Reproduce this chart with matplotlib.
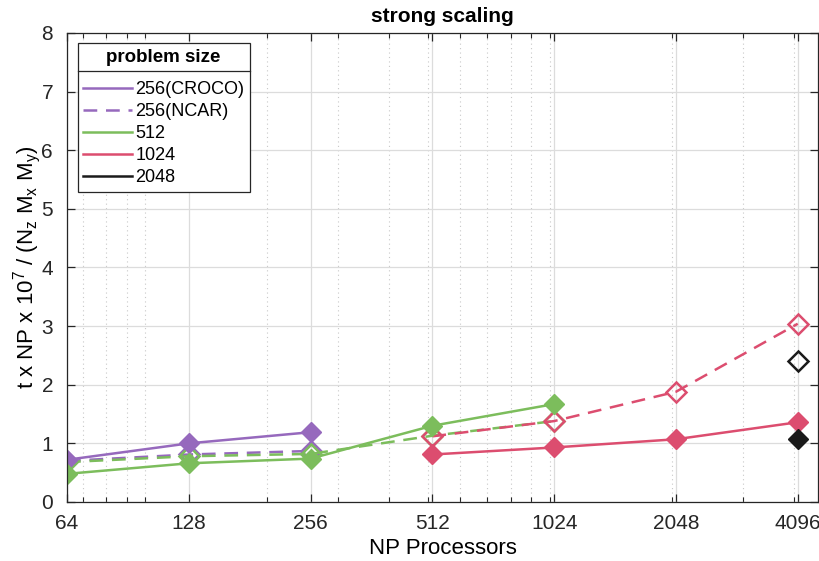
import numpy as np
from matplotlib import pyplot as plt
from matplotlib.lines import Line2D
from matplotlib.ticker import FixedLocator, NullFormatter

plt.rcParams['font.family'] = ['Liberation Sans', 'DejaVu Sans']
plt.rcParams['mathtext.fontset'] = 'custom'
plt.rcParams['mathtext.rm'] = 'Liberation Sans'
plt.rcParams['mathtext.it'] = 'Liberation Sans'

# processor counts
np_all = [64, 128, 256, 512, 1024, 2048, 4096]

# 256 problem size, two codes
np_256 = [64, 128, 256]
croco_256 = [0.72, 1.00, 1.19]
ncar_256 = [0.70, 0.81, 0.87]

# 512 problem size
np_512 = [64, 128, 256, 512, 1024]
croco_512 = [0.48, 0.66, 0.74, 1.30, 1.67]
ncar_512 = [0.68, 0.78, 0.82, 1.13, 1.38]

# 1024 problem size
np_1024 = [512, 1024, 2048, 4096]
croco_1024 = [0.81, 0.93, 1.07, 1.36]
ncar_1024 = [1.12, 1.38, 1.88, 3.04]

# 2048 problem size
np_2048 = [4096]
croco_2048 = [1.07]
ncar_2048 = [2.40]

labels = ['256(CROCO)', '256(NCAR)', '512', '1024', '2048']
purple = '#9669bd'
green = '#7cbd5c'
red = '#dc4d6f'
black = '#1a1a1a'

fig = plt.figure(figsize=(8.2, 5.61), dpi=100)
ax = fig.add_axes([0.0817, 0.1052, 0.916, 0.836])

ms = 10
lw = 1.8
dash = (5.5, 3.5)
# dashed (NCAR) series with open diamonds
ax.plot(np_256, ncar_256, '--', color=purple, lw=lw, marker='D', ms=ms,
        mfc='none', mec=purple, mew=1.8, dashes=dash)
ax.plot(np_512, ncar_512, '--', color=green, lw=lw, marker='D', ms=ms,
        mfc='none', mec=green, mew=1.8, dashes=dash)
ax.plot(np_1024, ncar_1024, '--', color=red, lw=lw, marker='D', ms=ms,
        mfc='none', mec=red, mew=1.8, dashes=dash)
ax.plot(np_2048, ncar_2048, color=black, lw=lw, marker='D', ms=ms,
        mfc='none', mec=black, mew=1.8, ls='none')
# solid (CROCO) series with filled diamonds
ax.plot(np_256, croco_256, '-', color=purple, lw=lw, marker='D', ms=ms)
ax.plot(np_512, croco_512, '-', color=green, lw=lw, marker='D', ms=ms)
ax.plot(np_1024, croco_1024, '-', color=red, lw=lw, marker='D', ms=ms)
ax.plot(np_2048, croco_2048, color=black, lw=lw, marker='D', ms=ms, ls='none')

ax.set_xscale('log', base=2)
ax.set_xlim(64, 4600)
ax.set_ylim(0, 8)
ax.xaxis.set_major_locator(FixedLocator(np_all))
ax.set_xticklabels([str(v) for v in np_all])
minor = [70, 80, 90, 100, 200, 300, 400, 500, 600, 700, 800, 900, 1000,
         2000, 3000, 4000]
ax.xaxis.set_minor_locator(FixedLocator(minor))
ax.xaxis.set_minor_formatter(NullFormatter())
ax.set_yticks(range(0, 9))

ax.grid(True, which='major', color='#dcdcdc', lw=0.9)
ax.grid(True, which='minor', axis='x', color='#c8c8c8', lw=0.8, ls=(0, (1, 3)))
ax.set_axisbelow(True)

ax.tick_params(which='both', direction='in', top=True, right=True,
               labelsize=15, colors='#262626')
ax.tick_params(which='major', length=6, width=0.9)
ax.tick_params(which='minor', length=3.5, width=0.8)
ax.tick_params(axis='x', which='major', pad=9)
ax.tick_params(axis='y', which='major', pad=10)
for s in ax.spines.values():
    s.set_color('#262626')
    s.set_linewidth(0.9)

ax.set_title('strong scaling', fontsize=15, fontweight='bold', pad=8)
ax.set_xlabel('NP Processors', fontsize=16, labelpad=3)
ax.set_ylabel(r't x NP x 10$^7$ / (N$_z$ M$_x$ M$_y$)', fontsize=16, labelpad=-1)

handles = [
    Line2D([], [], color=purple, lw=lw),
    Line2D([], [], color=purple, lw=lw, ls='--', dashes=dash),
    Line2D([], [], color=green, lw=lw),
    Line2D([], [], color=red, lw=lw),
    Line2D([], [], color=black, lw=lw),
]
leg = ax.legend(handles, labels, loc='upper left', bbox_to_anchor=(0.014, 0.978),
                title='problem size', fontsize=13, title_fontsize=13.5,
                fancybox=False, edgecolor='#262626', framealpha=1,
                handlelength=2.7, handletextpad=0.2, labelspacing=0.28,
                borderpad=0.3, borderaxespad=0)
leg.get_title().set_fontweight('bold')
leg.get_frame().set_linewidth(0.9)
leg._legend_box.sep = 11

# separator line under the legend title
fig.canvas.draw()
tb = leg.get_title().get_window_extent()
fb = leg.get_frame().get_window_extent()
inv = fig.transFigure.inverted()
y_sep = tb.y0 - 5.5
(x0, y0) = inv.transform((fb.x0, y_sep))
(x1, _) = inv.transform((fb.x1, y_sep))
fig.add_artist(Line2D([x0, x1], [y0, y0], color='#262626', lw=0.9,
                      transform=fig.transFigure, zorder=10))

fig.savefig('out.png', dpi=100)
